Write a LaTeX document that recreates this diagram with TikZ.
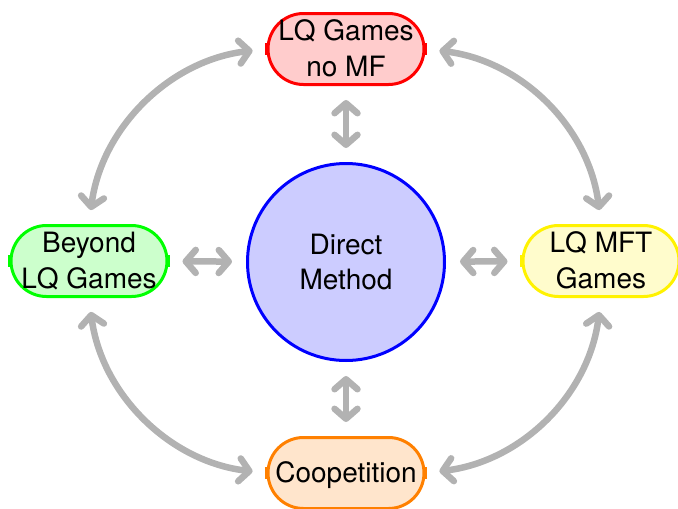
\documentclass[tikz,border=0pt]{standalone}
\usepackage{fontspec}
\setmainfont{TeX Gyre Heros}
\usetikzlibrary{shapes.misc,shapes.geometric,arrows.meta,calc}
% centred lines in a fixed-width box, free to spill over both sides
\newcommand\pilltext[1]{\raisebox{-2.5pt}[\height][\depth]{\makebox[80pt]{\begin{tabular}{@{}c@{}}#1\end{tabular}}}}
\begin{document}
\begin{tikzpicture}[x=1pt,y=-1pt,
  label font/.style={font=\fontsize{28}{35.5}\selectfont},
  satellite/.style={rounded rectangle, draw=#1, fill=#1!20, line width=3pt,
    minimum width=156pt, minimum height=71pt, inner sep=0pt,
    label font},
  planet/.style={circle, draw=blue, fill=blue!20, line width=3pt,
    minimum size=197pt, inner sep=0pt, align=center, label font},
  link/.style={draw=gray!60, line width=6.5pt,
    arrows={Straight Barb[length=10pt,width=23pt,line cap=round,line join=round]-Straight Barb[length=10pt,width=23pt,line cap=round,line join=round]},
    shorten <=14pt, shorten >=14pt},
]
\useasboundingbox (0,0) rectangle (678,509);

% central topic and the four satellites
\node[planet] (dm) at (346,262) {Direct\\Method};
\node[satellite=red]    (lq)  at (346,49)  {\pilltext{LQ Games\\no MF}};
\node[satellite=green]  (bl)  at (89,261)  {\pilltext{Beyond\\LQ Games}};
\node[satellite=yellow] (mft) at (601,261) {\pilltext{LQ MFT\\Games}};
\node[satellite=orange] (co)  at (346,473) {\pilltext{Coopetition}};

% small flat marks on the left and right ends of each satellite
\foreach \n/\c in {lq/red,bl/green,mft/yellow,co/orange}{
  \fill[\c] ($(\n.west)+(-1.5,-6)$) rectangle ++(3.5,12);
  \fill[\c] ($(\n.east)+(-2,-6)$) rectangle ++(3.5,12);
}

% planet <-> satellites
\draw[link] (dm) -- (lq);
\draw[link] (dm) -- (bl);
\draw[link] (dm) -- (mft);
\draw[link] (dm) -- (co);

% satellite <-> satellite
\draw[link] (lq.west) to[bend right=38] (bl.north);
\draw[link] (lq.east) to[bend left=38]  (mft.north);
\draw[link] (bl.south) to[bend right=38] (co.west);
\draw[link] (co.east) to[bend right=38] (mft.south);
\end{tikzpicture}
\end{document}
